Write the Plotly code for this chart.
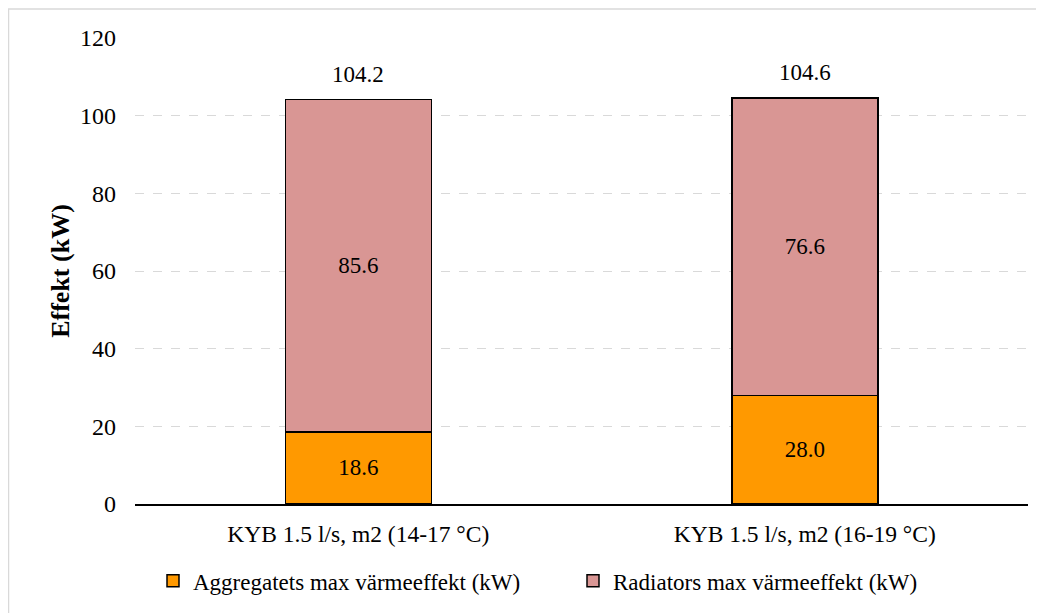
import plotly.graph_objects as go

categories = ["KYB 1.5 l/s, m2 (14-17 °C)", "KYB 1.5 l/s, m2 (16-19 °C)"]
aggregat = [18.6, 28.0]
radiator = [85.6, 76.6]
totals = [104.2, 104.6]
series_names = ["Aggregatets max värmeeffekt (kW)", "Radiators max värmeeffekt (kW)"]
y_ticks = [0, 20, 40, 60, 80, 100, 120]

FONT = "Liberation Serif, Times New Roman, serif"
# page body has an 8px margin, so the figure is offset by 8px
W, H = 1036, 605
L, R, T, B = 127, 16, 30, 109
pw = W - L - R
ph = H - T - B

fig = go.Figure()
fig.add_trace(go.Bar(
    x=categories, y=aggregat, name=series_names[0],
    marker=dict(color="#FF9900", line=dict(color="black", width=1.5)),
    texttemplate="%{y:.1f}", textposition="inside", insidetextanchor="middle",
    textfont=dict(family=FONT, size=23, color="black"), textangle=0,
))
fig.add_trace(go.Bar(
    x=categories, y=radiator, name=series_names[1],
    marker=dict(color="#D99694", line=dict(color="black", width=1.5)),
    texttemplate="%{y:.1f}", textposition="inside", insidetextanchor="middle",
    textfont=dict(family=FONT, size=23, color="black"), textangle=0,
))

for c, t in zip(categories, totals):
    fig.add_annotation(x=c, y=t, text=f"{t:.1f}", showarrow=False,
                       yanchor="middle", yshift=25,
                       font=dict(family=FONT, size=23, color="black"))

fig.add_shape(type="rect", xref="paper", yref="paper",
              x0=(0.5 - L) / pw, x1=(W + 10 - L) / pw,
              y0=(T + ph - (H + 10)) / ph, y1=(T + ph - 1) / ph,
              line=dict(color="#d9d9d9", width=1.5), fillcolor="rgba(0,0,0,0)", layer="below")

fig.update_layout(
    width=W, height=H,
    barmode="stack", bargap=0.673,
    margin=dict(l=L, r=R, t=T, b=B, autoexpand=False),
    plot_bgcolor="white", paper_bgcolor="white",
    font=dict(family=FONT, size=23, color="black"),
    showlegend=True,
    legend=dict(orientation="h", x=(145 - L) / pw, xanchor="left", y=-0.165, yanchor="middle",
                font=dict(family=FONT, size=23, color="black"),
                traceorder="normal", itemwidth=30, entrywidth=375),
    uniformtext=dict(mode=False),
)
fig.update_xaxes(showline=True, linecolor="black", linewidth=1.5, showgrid=False,
                 ticks="", ticklabelstandoff=8, tickfont=dict(family=FONT, size=23.5))
fig.update_yaxes(range=[0, 120], tickvals=y_ticks, showline=False, zeroline=False,
                 showgrid=True, gridcolor="#d9d9d9", griddash="dash", gridwidth=1.2,
                 ticks="", ticklabelstandoff=18, tickfont=dict(family=FONT, size=24),
                 title=dict(text="<b>Effekt (kW)</b>", font=dict(family=FONT, size=26), standoff=2))

fig.write_html("out.html")
